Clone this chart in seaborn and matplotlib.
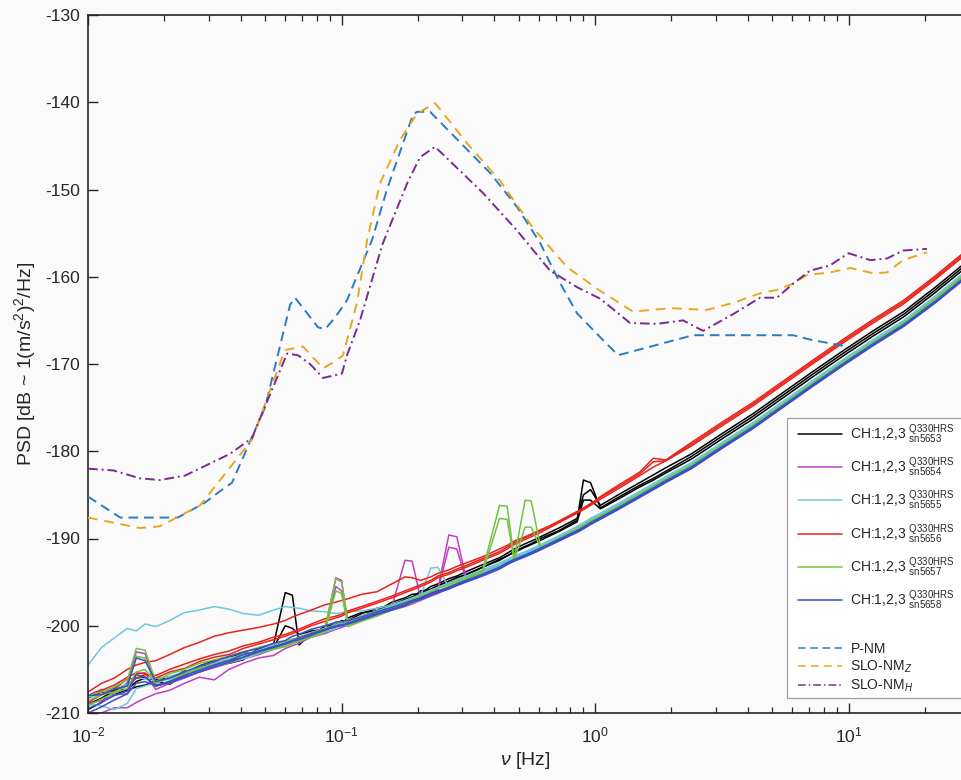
import matplotlib
matplotlib.use("Agg")
import matplotlib.pyplot as plt
import seaborn as sns
import pandas as pd
from matplotlib.lines import Line2D
from matplotlib.patches import Rectangle

# frequency grid shared by all sensor channels [Hz]
freq = [0.0100, 0.0113, 0.0127, 0.0143, 0.0155, 0.0168, 0.0185, 0.0210, 0.0240, 0.0275,
        0.0315, 0.0360, 0.0410, 0.0470, 0.0540, 0.0600, 0.0640, 0.0680, 0.0760, 0.0860,
        0.0950, 0.1000, 0.1060, 0.1200, 0.1380, 0.1580, 0.1780, 0.1900, 0.2050, 0.2250,
        0.2400, 0.2650, 0.2850, 0.3100, 0.3600, 0.4200, 0.4500, 0.4800, 0.5300, 0.5600,
        0.6100, 0.7200, 0.8500, 0.9000, 0.9600, 1.0500, 1.2500, 1.5000, 1.7000, 1.9000,
        2.4000, 3.2000, 4.2000, 5.5000, 7.2000, 9.5000, 12.500, 16.500, 22.000, 30.000]

# PSD per sensor, channels 1,2,3 [dB]
sn5653 = [
    [-209.0, -208.3, -207.4, -206.8, -206.0, -205.9, -206.9, -206.5, -205.9, -204.6,
     -204.0, -204.3, -203.9, -202.6, -202.1, -196.2, -196.5, -202.2, -200.9, -200.5,
     -200.1, -199.4, -199.6, -198.9, -198.3, -197.6, -197.1, -196.8, -196.0, -195.9,
     -195.4, -194.9, -194.5, -194.2, -193.3, -192.4, -192.0, -191.5, -190.9, -190.6,
     -190.0, -189.1, -187.9, -183.3, -183.6, -186.5, -185.2, -183.9, -183.1, -182.3,
     -180.6, -178.2, -176.0, -173.6, -171.2, -168.8, -166.5, -164.3, -161.5, -158.3],
    [-208.3, -207.6, -207.9, -207.3, -206.4, -206.0, -206.2, -206.0, -205.2, -205.3,
     -204.6, -203.6, -203.1, -203.3, -202.5, -200.0, -200.3, -201.0, -200.6, -200.4,
     -199.6, -199.8, -199.1, -198.5, -198.3, -197.3, -196.8, -196.4, -196.3, -195.5,
     -195.2, -194.6, -194.3, -193.8, -193.0, -192.2, -191.7, -191.2, -190.6, -190.3,
     -189.8, -188.8, -187.7, -185.0, -184.4, -186.2, -184.9, -183.6, -182.7, -181.9,
     -180.3, -177.9, -175.7, -173.3, -170.9, -168.5, -166.2, -164.0, -161.2, -158.0],
    [-209.6, -208.8, -207.1, -207.4, -207.0, -206.8, -206.3, -206.7, -205.6, -204.8,
     -204.3, -204.1, -203.6, -202.7, -202.4, -202.0, -201.8, -201.3, -201.0, -200.1,
     -199.9, -199.5, -199.4, -198.6, -198.0, -197.6, -197.0, -196.7, -196.3, -195.8,
     -195.4, -194.9, -194.5, -194.1, -193.3, -192.5, -192.0, -191.6, -191.0, -190.7,
     -190.2, -189.2, -188.1, -185.6, -185.6, -186.6, -185.4, -184.1, -183.3, -182.5,
     -180.9, -178.5, -176.3, -173.9, -171.5, -169.1, -166.8, -164.6, -161.8, -158.6],
]
sn5654 = [
    [-208.0, -207.3, -207.8, -206.5, -203.0, -203.2, -206.9, -206.4, -205.4, -205.2,
     -204.2, -204.0, -203.2, -203.1, -202.4, -202.1, -201.9, -201.7, -200.9, -200.4,
     -194.5, -194.8, -199.7, -199.0, -198.4, -197.8, -192.5, -192.6, -196.8, -196.2,
     -195.8, -189.6, -189.8, -194.6, -193.8, -193.1, -192.7, -192.3, -191.8, -191.5,
     -191.0, -190.0, -189.0, -188.6, -188.2, -187.5, -186.3, -185.0, -184.1, -183.3,
     -181.7, -179.3, -177.1, -174.7, -172.3, -169.9, -167.6, -165.4, -162.6, -159.4],
    [-208.9, -208.6, -207.9, -207.8, -205.5, -205.4, -207.3, -206.6, -206.0, -205.3,
     -204.8, -204.3, -203.8, -203.3, -202.7, -202.3, -202.0, -201.8, -201.3, -200.7,
     -195.5, -196.0, -199.8, -199.2, -198.6, -198.0, -197.4, -197.1, -196.7, -196.3,
     -195.9, -191.0, -191.2, -194.7, -193.9, -193.2, -192.8, -192.4, -191.9, -191.6,
     -191.1, -190.1, -189.1, -188.6, -188.1, -187.5, -186.3, -185.1, -184.2, -183.4,
     -181.8, -179.4, -177.2, -174.8, -172.4, -170.0, -167.7, -165.5, -162.7, -159.5],
    [-210.0, -210.0, -209.4, -209.4, -208.8, -208.3, -207.8, -207.4, -206.6, -205.9,
     -206.2, -205.0, -204.3, -203.7, -203.4, -202.6, -202.3, -202.0, -201.3, -200.9,
     -200.4, -200.2, -199.9, -199.4, -198.8, -198.2, -197.8, -197.5, -197.1, -196.6,
     -196.3, -195.7, -195.3, -194.9, -194.2, -193.4, -192.9, -192.5, -192.0, -191.7,
     -191.2, -190.2, -189.2, -188.8, -188.3, -187.6, -186.5, -185.2, -184.3, -183.5,
     -181.9, -179.5, -177.3, -174.9, -172.5, -170.1, -167.8, -165.6, -162.8, -159.6],
]
sn5655 = [
    [-204.5, -202.5, -201.4, -200.3, -200.6, -199.8, -200.1, -199.4, -198.5, -198.2,
     -197.8, -198.1, -198.6, -198.8, -198.2, -197.8, -197.9, -198.0, -198.3, -198.4,
     -198.6, -198.5, -198.4, -198.3, -198.0, -197.6, -197.1, -196.8, -196.4, -195.9,
     -195.6, -195.1, -194.7, -194.3, -193.6, -192.8, -192.4, -192.0, -191.5, -191.2,
     -190.7, -189.7, -188.6, -188.2, -187.7, -187.1, -185.9, -184.6, -183.7, -182.9,
     -181.3, -178.9, -176.7, -174.3, -171.9, -169.5, -167.2, -165.0, -162.2, -159.0],
    [-209.0, -209.2, -209.6, -208.9, -207.2, -206.9, -206.5, -206.1, -205.7, -205.1,
     -204.7, -204.2, -203.8, -203.2, -202.6, -202.2, -202.0, -201.7, -201.2, -200.7,
     -200.3, -200.0, -199.7, -199.2, -198.6, -198.0, -197.4, -197.1, -196.6, -193.4,
     -193.3, -195.6, -195.1, -194.7, -193.9, -193.1, -192.6, -192.2, -191.7, -191.4,
     -190.9, -189.9, -188.8, -188.4, -187.9, -187.3, -186.1, -184.8, -183.9, -183.1,
     -181.5, -179.1, -176.9, -174.5, -172.1, -169.7, -167.4, -165.2, -162.4, -159.2],
    [-208.2, -207.9, -207.0, -206.8, -205.9, -206.1, -206.0, -205.8, -205.3, -204.9,
     -204.3, -203.7, -203.4, -202.8, -202.2, -201.8, -201.5, -201.5, -200.8, -200.3,
     -199.9, -199.6, -199.4, -198.9, -198.3, -197.7, -197.2, -196.9, -196.5, -196.0,
     -195.7, -195.2, -194.8, -194.4, -193.7, -192.9, -192.5, -192.1, -191.6, -191.3,
     -190.8, -189.8, -188.7, -188.3, -187.8, -187.2, -186.0, -184.7, -183.8, -183.0,
     -181.4, -179.0, -176.8, -174.4, -172.0, -169.6, -167.3, -165.1, -162.3, -159.1],
]
sn5656 = [
    [-207.6, -206.6, -206.0, -205.0, -204.5, -204.2, -204.0, -203.3, -202.5, -201.9,
     -201.2, -200.8, -200.5, -200.2, -199.8, -199.4, -199.0, -198.7, -198.2, -197.6,
     -197.3, -197.1, -196.9, -196.4, -196.1, -195.2, -194.4, -194.5, -194.8, -194.4,
     -194.0, -193.6, -193.2, -192.8, -192.1, -191.2, -190.8, -190.3, -189.8, -189.5,
     -189.0, -188.1, -187.0, -186.6, -186.1, -185.2, -183.8, -182.4, -180.8, -181.0,
     -179.0, -176.6, -174.4, -172.0, -169.6, -167.2, -164.9, -162.7, -159.9, -156.7],
    [-208.0, -207.4, -206.8, -205.9, -205.4, -205.5, -205.7, -205.0, -204.4, -203.8,
     -203.3, -202.9, -202.3, -201.9, -201.3, -201.0, -200.7, -200.4, -199.8, -199.2,
     -198.9, -198.7, -198.3, -197.8, -197.2, -196.6, -196.0, -195.7, -195.3, -194.8,
     -194.3, -193.9, -193.5, -193.1, -192.3, -191.5, -191.0, -190.5, -189.9, -189.6,
     -189.1, -188.0, -186.9, -186.5, -186.0, -185.3, -184.0, -182.6, -181.2, -181.1,
     -179.2, -176.8, -174.6, -172.2, -169.8, -167.4, -165.1, -162.9, -160.1, -156.9],
    [-208.8, -207.9, -207.2, -206.1, -206.0, -205.6, -206.0, -205.3, -204.9, -204.1,
     -203.6, -203.3, -202.6, -202.1, -201.6, -201.2, -200.9, -200.6, -200.0, -199.5,
     -199.1, -198.9, -198.5, -198.0, -197.4, -196.8, -196.2, -195.9, -195.5, -195.0,
     -194.5, -194.1, -193.7, -193.3, -192.5, -191.7, -191.2, -190.7, -190.1, -189.8,
     -189.3, -188.2, -187.1, -186.7, -186.2, -185.5, -184.2, -182.8, -181.8, -181.1,
     -179.4, -177.0, -174.8, -172.4, -170.0, -167.6, -165.3, -163.1, -160.3, -157.1],
]
sn5657 = [
    [-208.0, -207.6, -207.0, -206.2, -202.6, -202.8, -206.4, -205.5, -205.0, -204.3,
     -203.9, -203.5, -203.0, -202.5, -202.1, -201.8, -201.6, -201.3, -200.8, -200.3,
     -194.6, -195.0, -199.6, -199.0, -198.4, -197.8, -197.3, -197.0, -196.6, -196.1,
     -195.7, -195.3, -194.9, -194.5, -193.7, -186.2, -186.3, -192.3, -185.6, -185.7,
     -191.0, -190.0, -188.9, -188.5, -188.0, -187.4, -186.2, -184.9, -184.0, -183.2,
     -181.6, -179.2, -177.0, -174.6, -172.2, -169.8, -167.5, -165.3, -162.5, -159.3],
    [-208.6, -207.9, -207.6, -206.9, -203.5, -203.7, -207.0, -206.3, -205.6, -204.8,
     -204.5, -203.9, -203.2, -203.0, -202.6, -202.3, -201.9, -201.6, -201.1, -200.6,
     -196.0, -196.3, -199.9, -199.3, -198.7, -198.1, -197.6, -197.2, -196.9, -196.4,
     -196.0, -195.5, -195.1, -194.7, -193.9, -187.7, -187.8, -192.5, -188.7, -188.7,
     -191.1, -190.1, -189.0, -188.6, -188.1, -187.5, -186.3, -185.0, -184.1, -183.3,
     -181.7, -179.3, -177.1, -174.7, -172.3, -169.9, -167.6, -165.4, -162.6, -159.4],
    [-209.2, -208.4, -207.7, -207.2, -205.3, -205.0, -206.6, -205.9, -205.5, -205.0,
     -204.4, -204.2, -203.6, -203.1, -202.7, -202.4, -202.1, -201.8, -201.3, -200.8,
     -199.6, -199.7, -200.1, -199.5, -198.9, -198.2, -197.7, -197.4, -197.0, -196.5,
     -196.1, -195.7, -195.3, -194.9, -194.1, -193.2, -192.8, -192.4, -191.9, -191.6,
     -191.1, -190.1, -189.0, -188.6, -188.1, -187.5, -186.3, -185.0, -184.1, -183.3,
     -181.7, -179.3, -177.1, -174.7, -172.3, -169.9, -167.6, -165.4, -162.6, -159.4],
]
sn5658 = [
    [-208.0, -207.9, -207.3, -206.9, -203.7, -204.0, -206.4, -206.0, -205.3, -204.6,
     -204.1, -203.5, -203.0, -202.6, -202.0, -201.7, -201.2, -201.0, -200.4, -200.0,
     -199.6, -199.5, -199.4, -199.0, -198.4, -197.9, -197.4, -197.1, -196.8, -196.3,
     -196.0, -195.6, -195.2, -194.8, -194.1, -193.3, -192.8, -192.4, -191.9, -191.6,
     -191.1, -190.1, -189.1, -188.7, -188.2, -187.6, -186.4, -185.1, -184.2, -183.4,
     -181.8, -179.4, -177.2, -174.8, -172.4, -170.0, -167.7, -165.5, -162.8, -159.6],
    [-209.5, -208.8, -208.0, -207.5, -205.6, -205.9, -206.8, -206.4, -205.7, -205.1,
     -204.5, -204.0, -203.3, -202.9, -202.4, -202.0, -201.7, -201.4, -200.9, -200.4,
     -200.0, -199.9, -199.7, -199.2, -198.6, -198.1, -197.6, -197.2, -196.9, -196.4,
     -196.1, -195.7, -195.3, -194.9, -194.2, -193.4, -192.9, -192.5, -192.0, -191.7,
     -191.2, -190.2, -189.2, -188.8, -188.3, -187.7, -186.5, -185.2, -184.3, -183.5,
     -181.9, -179.5, -177.3, -174.9, -172.5, -170.1, -167.8, -165.6, -162.9, -159.7],
    [-210.0, -209.3, -208.5, -207.8, -206.6, -206.4, -206.9, -206.5, -205.9, -205.3,
     -204.7, -204.2, -203.6, -203.0, -202.5, -202.1, -201.8, -201.6, -201.1, -200.5,
     -200.1, -200.0, -199.8, -199.3, -198.7, -198.2, -197.7, -197.3, -197.0, -196.5,
     -196.2, -195.8, -195.4, -195.0, -194.3, -193.5, -193.0, -192.6, -192.1, -191.8,
     -191.3, -190.3, -189.3, -188.9, -188.4, -187.8, -186.6, -185.3, -184.4, -183.6,
     -182.0, -179.6, -177.4, -175.0, -172.6, -170.2, -167.9, -165.7, -163.0, -159.8],
]

sensors = ["sn5653", "sn5654", "sn5655", "sn5656", "sn5657", "sn5658"]
sensor_psd = [sn5653, sn5654, sn5655, sn5656, sn5657, sn5658]
sensor_colors = ["#000000", "#c03fc3", "#6cc8dc", "#e8231c", "#72c442", "#3c4ec8"]

# noise models
pnm_freq = [0.0100, 0.0134, 0.0226, 0.0289, 0.0317, 0.0370, 0.0443, 0.0499, 0.0627, 0.0656,
            0.0808, 0.0862, 0.0942, 0.1051, 0.1319, 0.1511, 0.1749, 0.1914, 0.1986, 0.2236,
            0.3855, 0.4925, 0.6067, 0.7275, 0.850, 1.046, 1.233, 2.436, 6.04, 7.05, 9.86]
pnm_psd = [-185.2, -187.6, -187.6, -185.9, -185.0, -183.6, -178.4, -175.0, -163.2, -162.4,
           -165.8, -166.0, -164.7, -162.7, -155.8, -150.0, -144.7, -141.4, -141.1, -141.1,
           -148.1, -152.0, -156.1, -160.7, -164.2, -166.9, -169.0, -166.7, -166.7, -167.2, -168.0]

slz_freq = [0.0100, 0.0160, 0.0192, 0.0277, 0.0332, 0.0443, 0.0598, 0.0705, 0.0846, 0.0942,
            0.1013, 0.1151, 0.1262, 0.1418, 0.1702, 0.1986, 0.2339, 0.3128, 0.4222, 0.5694,
            0.776, 1.046, 1.413, 1.976, 2.766, 3.50, 4.48, 5.22, 6.04, 6.86,
            8.45, 10.2, 12.5, 14.2, 16.4, 20.4]
slz_psd = [-187.6, -188.8, -188.6, -186.2, -183.3, -178.7, -168.4, -168.0, -170.5, -169.7,
           -169.0, -163.0, -155.8, -149.3, -144.3, -141.3, -140.1, -144.7, -149.0, -154.4,
           -158.9, -161.6, -164.0, -163.6, -163.8, -163.0, -161.9, -161.5, -160.8, -159.8,
           -159.5, -159.0, -159.6, -159.5, -158.1, -157.2]

slh_freq = [0.0100, 0.0126, 0.0160, 0.0192, 0.0241, 0.0363, 0.0443, 0.0610, 0.0674, 0.0751,
            0.0846, 0.1004, 0.1051, 0.1183, 0.1446, 0.1511, 0.1815, 0.2041, 0.2339, 0.3615,
            0.4925, 0.6645, 0.850, 1.046, 1.375, 1.757, 2.225, 2.668, 3.50, 4.48,
            5.22, 6.04, 7.05, 8.45, 10.0, 12.2, 14.2, 16.4, 20.4]
slh_psd = [-182.0, -182.2, -183.1, -183.3, -182.8, -180.3, -178.5, -168.8, -169.0, -170.0,
           -171.6, -171.1, -169.0, -165.0, -156.4, -155.0, -149.3, -146.3, -145.1, -150.4,
           -154.7, -159.3, -161.2, -162.5, -165.3, -165.4, -165.0, -166.2, -164.3, -162.4,
           -162.4, -160.8, -159.3, -158.7, -157.3, -158.1, -157.9, -157.0, -156.8]

noise_labels = ["P-NM", "SLO-NM$_Z$", "SLO-NM$_H$"]
noise_colors = ["#2a7bc4", "#e6a821", "#7a2b8f"]
noise_dashes = [(5, 3), (5, 3.5), (5, 2, 1, 2)]

sns.set_theme(style="ticks")
plt.rcParams["font.family"] = ["Liberation Sans", "DejaVu Sans"]
plt.rcParams["mathtext.fontset"] = "custom"
plt.rcParams["mathtext.rm"] = "Liberation Sans"
plt.rcParams["mathtext.it"] = "Liberation Sans:italic"
plt.rcParams["mathtext.bf"] = "Liberation Sans:bold"
plt.rcParams["axes.unicode_minus"] = False

bg = "#fafafa"
fig = plt.figure(figsize=(9.62, 7.8), dpi=100, facecolor=bg)
ax = fig.add_axes([88 / 962, 67 / 780, 874 / 962, 698 / 780])
ax.set_facecolor(bg)

# sensor channels in long format
rows = []
for name, chans in zip(sensors, sensor_psd):
    for ch, vals in enumerate(chans, start=1):
        for f, v in zip(freq, vals):
            rows.append((name, ch, f, v))
df = pd.DataFrame(rows, columns=["sensor", "channel", "freq", "psd"])

sns.lineplot(data=df, x="freq", y="psd", hue="sensor", units="channel",
             estimator=None, palette=dict(zip(sensors, sensor_colors)),
             linewidth=1.1, legend=False, ax=ax, zorder=2)

for fr, ps, col, dsh in zip([pnm_freq, slz_freq, slh_freq], [pnm_psd, slz_psd, slh_psd],
                            noise_colors, noise_dashes):
    sns.lineplot(x=fr, y=ps, color=col, linewidth=1.4, ax=ax, zorder=3)
    ax.lines[-1].set_dashes(dsh)

ax.set_xscale("log")
ax.set_xlim(0.01, 28.03)
ax.set_ylim(-210, -130)
ax.set_yticks(range(-210, -129, 10))
ax.tick_params(which="both", direction="in", top=True, right=False,
               labelsize=12.5, color="#262626")
ax.tick_params(which="major", length=7, width=1.0, pad=6)
ax.tick_params(which="minor", length=4, width=0.9)
ax.tick_params(axis="x", pad=9)
for side in ["left", "bottom", "top"]:
    ax.spines[side].set_linewidth(1.2)
    ax.spines[side].set_color("#262626")
ax.spines["right"].set_visible(False)

ax.set_xlabel(r"$\nu$ [Hz]", fontsize=14, labelpad=3)
ax.set_ylabel(r"PSD [dB ~ 1(m/s$^2$)$^2$/Hz]", fontsize=14, labelpad=5)

# legend box
ax.add_patch(Rectangle((0.80, 0.0215), 0.25, 0.401, transform=ax.transAxes,
                       facecolor="white", edgecolor="#a0a0a0", linewidth=0.9,
                       clip_on=False, zorder=4))

sensor_handles = [Line2D([], [], color=c, linewidth=1.1) for c in sensor_colors]
sensor_labels = ["CH:1,2,3 $^{\\mathregular{Q330HRS}}_{\\mathregular{%s}}$" % s for s in sensors]
leg1 = ax.legend(sensor_handles, sensor_labels, loc="upper left",
                 bbox_to_anchor=(0.812, 0.417), frameon=False, fontsize=10,
                 handlelength=3.2, handletextpad=0.6, labelspacing=0.68,
                 borderpad=0, borderaxespad=0)
leg1.set_zorder(5)
ax.add_artist(leg1)

noise_handles = []
for col, dsh in zip(noise_colors, noise_dashes):
    h = Line2D([], [], color=col, linewidth=1.1)
    h.set_dashes(dsh)
    noise_handles.append(h)
leg2 = ax.legend(noise_handles, noise_labels, loc="upper left",
                 bbox_to_anchor=(0.812, 0.1017), frameon=False, fontsize=10,
                 handlelength=3.2, handletextpad=0.6, labelspacing=0.2,
                 borderpad=0, borderaxespad=0)
leg2.set_zorder(5)

fig.savefig("out.png", dpi=100, facecolor=bg)
